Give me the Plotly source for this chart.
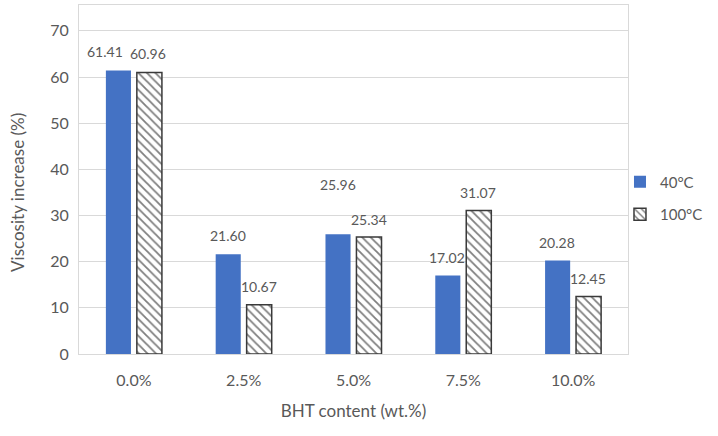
import plotly.graph_objects as go

categories = ["0.0%", "2.5%", "5.0%", "7.5%", "10.0%"]
series_names = ["40°C", "100°C"]
values_40 = [61.41, 21.60, 25.96, 17.02, 20.28]
values_100 = [60.96, 10.67, 25.34, 31.07, 12.45]
label_yshift_40 = [19, 19, 50, 18, 18]
label_yshift_100 = [19, 18, 18, 18, 18]
label_xshift_40 = [-29, -16, -16, -16, -16]
label_xshift_100 = [14, 15, 15, 15, 15]

FONT = "Lato"
TXT = "#595959"
GRID = "#D9D9D9"
BLUE = "#4472C4"

fig = go.Figure()
fig.add_trace(go.Bar(
    name=series_names[0], x=categories, y=values_40,
    marker=dict(color=BLUE, line=dict(width=0)),
    legendgroup="a",
))
fig.add_trace(go.Bar(
    name=series_names[1], x=categories, y=values_100,
    marker=dict(color="white", line=dict(color="#3a3a3a", width=1.5),
                pattern=dict(shape="\\", fgcolor="#000000", bgcolor="white",
                             size=6, solidity=0.3)),
    legendgroup="b",
))

annotations = []
for c, v, s, xs in zip(categories, values_40, label_yshift_40, label_xshift_40):
    annotations.append(dict(x=c, y=v, text=f"{v:.2f}", showarrow=False,
                            xshift=xs, yshift=s, yanchor="middle",
                            font=dict(family=FONT, size=14, color=TXT)))
for c, v, s, xs in zip(categories, values_100, label_yshift_100, label_xshift_100):
    annotations.append(dict(x=c, y=v, text=f"{v:.2f}", showarrow=False,
                            xshift=xs, yshift=s, yanchor="middle",
                            font=dict(family=FONT, size=14, color=TXT)))
# y-axis title centred on the 0-70 span
annotations.append(dict(x=0, xref="paper", y=35, yref="y",
                        text="Viscosity increase (%)", textangle=-90,
                        showarrow=False, xshift=-74, yanchor="middle",
                        font=dict(family=FONT, size=17, color=TXT)))

fig.update_layout(
    width=718, height=436,
    margin=dict(l=79, r=90, t=5, b=82),
    paper_bgcolor="white", plot_bgcolor="white",
    barmode="group", bargap=0.436, bargroupgap=0.19,
    font=dict(family=FONT, color=TXT, size=15),
    showlegend=True,
    legend=dict(x=0.9854, xanchor="left", y=0.447, yanchor="middle",
                font=dict(family=FONT, size=15, color=TXT),
                tracegroupgap=10, traceorder="grouped",
                bgcolor="rgba(0,0,0,0)"),
    annotations=annotations,
    xaxis=dict(
        showline=True, linecolor=GRID, linewidth=1, mirror=True,
        ticks="outside", ticklen=12, tickcolor="rgba(0,0,0,0)",
        tickfont=dict(family=FONT, size=16, color=TXT),
        title=dict(text="BHT content (wt.%)", standoff=16,
                   font=dict(family=FONT, size=17, color=TXT)),
    ),
    yaxis=dict(
        range=[0, 75.6], dtick=10, tick0=0,
        showgrid=True, gridcolor=GRID, gridwidth=1,
        showline=True, linecolor=GRID, linewidth=1, mirror=True,
        zeroline=False,
        ticks="outside", ticklen=6, tickcolor="rgba(0,0,0,0)",
        tickfont=dict(family=FONT, size=16, color=TXT),
    ),
)

fig.write_html("out.html", config={"displayModeBar": False},
               post_script="document.body.style.margin='0px';document.body.style.padding='0px';")
